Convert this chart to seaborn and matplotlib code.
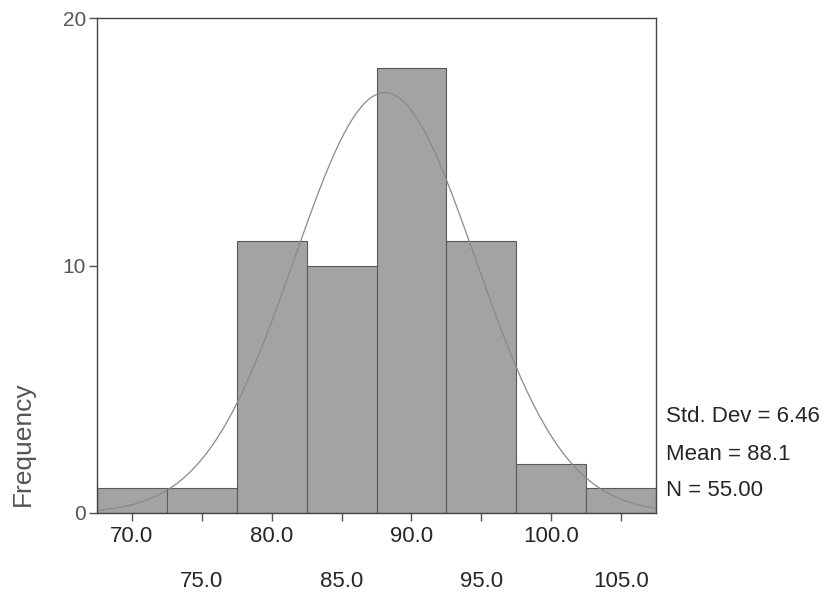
import numpy as np
import pandas as pd
import matplotlib
matplotlib.use('Agg')
import matplotlib.pyplot as plt
import seaborn as sns

# bin centres and frequencies
bin_centers = [70, 75, 80, 85, 90, 95, 100, 105]
frequencies = [1, 1, 11, 10, 18, 11, 2, 1]

# summary statistics shown beside the chart
std_dev = 6.46
mean = 88.1
n_total = 55

tick_labels_row1 = ['70.0', '80.0', '90.0', '100.0']
tick_labels_row2 = ['75.0', '85.0', '95.0', '105.0']

sns.set_theme(style='white')
plt.rcParams['font.family'] = ['Liberation Sans', 'DejaVu Sans']

df = pd.DataFrame({'score': bin_centers, 'count': frequencies})

fig = plt.figure(figsize=(8.31, 5.93), dpi=100)
ax = fig.add_axes([97 / 831, 1 - 513 / 593, (656 - 97) / 831, (513 - 18) / 593])

sns.histplot(data=df, x='score', weights='count', binwidth=5, binrange=(67.5, 107.5),
             color='#a3a3a3', edgecolor='#5a5a5a', linewidth=0.8, alpha=1, ax=ax)

# fitted normal curve (SPSS style: N * binwidth * pdf)
xs = np.linspace(67.5, 107.5, 300)
ys = n_total * 5 * np.exp(-0.5 * ((xs - mean) / std_dev) ** 2) / (std_dev * np.sqrt(2 * np.pi))
sns.lineplot(x=xs, y=ys, color='#8a8a8a', linewidth=0.9, ax=ax)

ax.set_xlim(67.5, 107.5)
ax.set_ylim(0, 20)
ax.set_yticks([0, 10, 20])
ax.set_yticklabels(['0', '10', '20'], fontsize=15, color='#555555')

ax.set_xticks([70, 80, 90, 100])
ax.set_xticklabels(tick_labels_row1, fontsize=16)
ax.set_xticks([75, 85, 95, 105], minor=True)
ax.set_xticklabels(tick_labels_row2, minor=True, fontsize=16)
ax.tick_params(axis='x', which='major', direction='out', length=6, width=1, color='#555555', pad=3, bottom=True)
ax.tick_params(axis='x', which='minor', direction='out', length=6, width=1, color='#555555', pad=36, bottom=True)
ax.tick_params(axis='y', direction='out', length=6, width=1, color='#555555', pad=2, left=True)

for side in ['top', 'right', 'left', 'bottom']:
    ax.spines[side].set_visible(True)
    ax.spines[side].set_color('#444444')
    ax.spines[side].set_linewidth(1.0)

ax.set_xlabel('')
ax.set_ylabel('')
fig.text(23 / 831, 1 - 444 / 593, 'Frequency', rotation=90, fontsize=19, color='#555555',
         ha='center', va='center')

fig.text(666 / 831, 1 - 416 / 593, f'Std. Dev = {std_dev:.2f}', fontsize=16, va='center', ha='left')
fig.text(666 / 831, 1 - 454 / 593, f'Mean = {mean:.1f}', fontsize=16, va='center', ha='left')
fig.text(666 / 831, 1 - 491 / 593, f'N = {n_total:.2f}', fontsize=16, va='center', ha='left')

fig.savefig('out.png', dpi=100)
